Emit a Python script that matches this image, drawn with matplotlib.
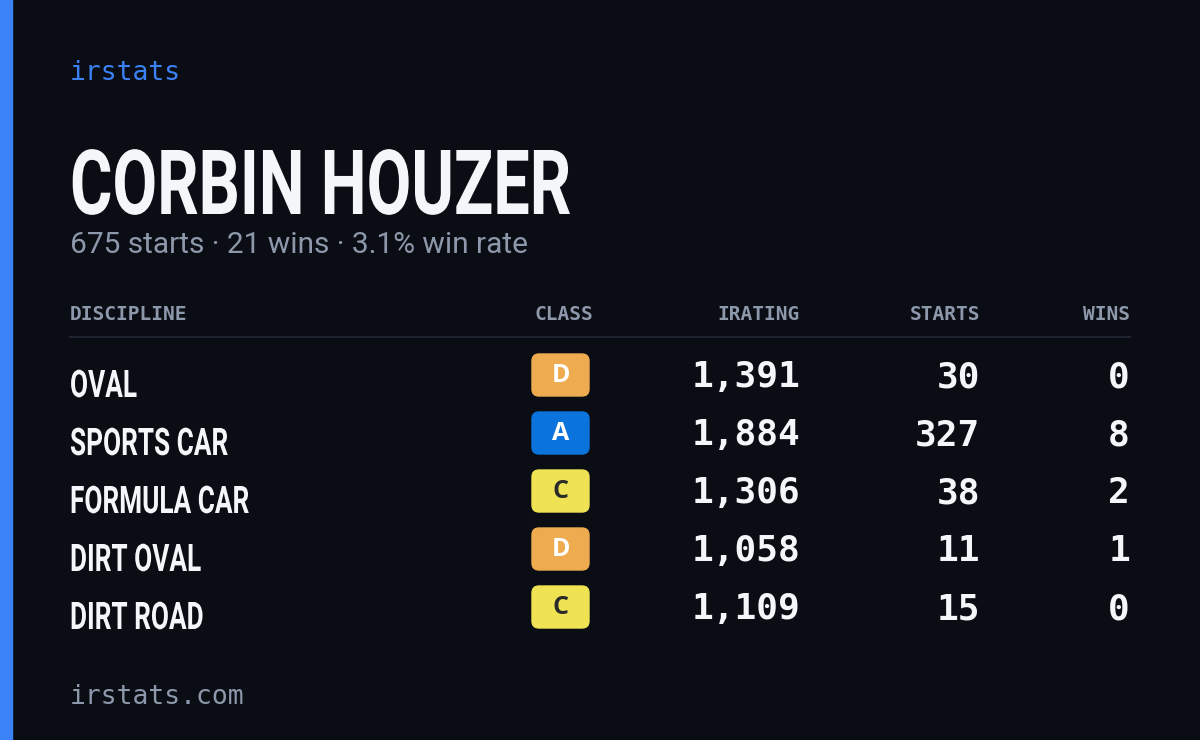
import matplotlib
matplotlib.use("Agg")
import matplotlib.pyplot as plt
from matplotlib.patches import FancyBboxPatch, Rectangle, PathPatch
from matplotlib.textpath import TextPath
from matplotlib.font_manager import FontProperties
from matplotlib.transforms import Affine2D

player = "CORBIN HOUZER"
subtitle = "675 starts · 21 wins · 3.1% win rate"
headers = ["DISCIPLINE", "CLASS", "IRATING", "STARTS", "WINS"]
disciplines = ["OVAL", "SPORTS CAR", "FORMULA CAR", "DIRT OVAL", "DIRT ROAD"]
classes = ["D", "A", "C", "D", "C"]
iratings = [1391, 1884, 1306, 1058, 1109]
starts = [30, 327, 38, 11, 15]
wins = [0, 8, 2, 1, 0]

class_bg = {"A": "#0b74dc", "C": "#efe253", "D": "#efab4f"}
class_fg = {"A": "#ffffff", "C": "#2a2a2a", "D": "#ffffff"}

W, H = 1200, 740
fig = plt.figure(figsize=(12, 7.4), dpi=100)
fig.patch.set_facecolor("#0a0d14")
ax = fig.add_axes([0, 0, 1, 1])
ax.set_xlim(0, W); ax.set_ylim(H, 0); ax.axis("off")

bold_fp = FontProperties(family="Roboto", weight="bold")

def condensed(s, x, baseline, cap, sx, color):
    tp = TextPath((0, 0), s, size=cap / 0.711, prop=bold_fp)
    tr = Affine2D().scale(sx, -1).translate(x, baseline)
    ax.add_patch(PathPatch(tr.transform_path(tp), color=color, lw=0))

ax.add_patch(Rectangle((0, 0), 12, H, color="#3b82f6"))
ax.text(70, 73, "irstats", color="#3b82f6", fontsize=19, family="DejaVu Sans Mono", va="center")
condensed(player, 70, 214, 64, 0.72, "#f5f6fa")
ax.text(70, 245, subtitle, color="#8e98ab", fontsize=21.5, family="Roboto", va="center")

mono = "DejaVu Sans Mono"
hx = [(70, "left"), (593, "right"), (800, "right"), (980, "right"), (1130, "right")]
for (x, ha), h in zip(hx, headers):
    ax.text(x, 314, h, color="#8e98ab", fontsize=14, family=mono, weight="bold", ha=ha, va="center")
ax.plot([70, 1130], [337, 337], color="#1e2330", lw=1.5)

for i, (d, c, r, s, w) in enumerate(zip(disciplines, classes, iratings, starts, wins)):
    yc = 377 + 58 * i
    condensed(d, 70, yc + 20, 27, 0.69, "#f5f6fa")
    ax.add_patch(FancyBboxPatch((532, yc - 23), 57, 42, boxstyle="round,pad=0,rounding_size=7",
                                color=class_bg[c]))
    ax.text(560.5, yc - 2, c, color=class_fg[c], fontsize=18, family="Open Sans", weight="bold",
            ha="center", va="center")
    ax.text(800, yc, f"{r:,}", color="#f5f6fa", fontsize=26, family=mono, weight="bold", ha="right", va="center")
    ax.text(980, yc, f"{s}", color="#f5f6fa", fontsize=26, family=mono, weight="bold", ha="right", va="center")
    ax.text(1130, yc, f"{w}", color="#f5f6fa", fontsize=26, family=mono, weight="bold", ha="right", va="center")

ax.text(70, 697, "irstats.com", color="#8e98ab", fontsize=19, family=mono, va="center")
fig.savefig("out.png", dpi=100, facecolor=fig.get_facecolor())
